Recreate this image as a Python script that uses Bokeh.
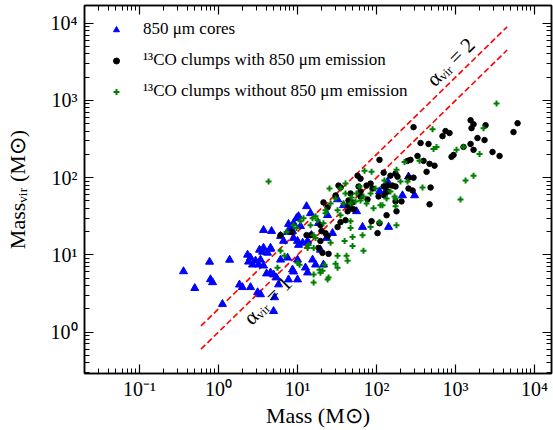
import math
from bokeh.plotting import figure
from bokeh.models import (LogAxis, FixedTicker, CustomJSTickFormatter, Legend, LegendItem,
                          Label, Range1d)
from bokeh.embed import file_html
from bokeh.resources import INLINE

FONT = "Liberation Serif"

# ---- data: 850 um cores ----
core_mass = [0.36, 0.50, 0.77, 0.79, 0.84, 1.12, 1.38, 1.84, 2.0, 2.54, 3.12, 3.40, 4.97, 5.12,
             2.33, 2.54, 2.40, 2.69, 3.30, 3.61, 3.40, 3.21, 3.71, 4.55, 3.71, 4.69, 4.05, 4.55,
             4.97, 5.42, 6.09, 7.47, 8.64, 8.90, 10.0, 12.6, 13.4, 15.5, 10.0, 6.09, 7.69, 8.15,
             7.47, 8.64, 8.90, 10.0, 10.3, 11.6, 9.71, 10.3, 8.90, 13.0, 6.65, 13.4, 3.71, 4.55,
             4.17, 15.0, 19.5, 23.3, 24.0, 32.1, 38.2, 55.8, 66.5, 142, 109, 138, 130, 213, 303,
             254, 27.7, 16.9, 21.3, 7.69, 5.75, 10.9, 18.4, 14.6, 2.94]
core_mvir = [6.1, 3.7, 8.1, 4.8, 4.4, 2.3, 8.6, 4.1, 3.8, 3.8, 3.26, 3.07, 1.86, 2.81,
             10.0, 9.16, 8.13, 7.45, 11.6, 10.9, 8.63, 7.45, 7.23, 12.3, 20.9, 20.3, 5.71, 5.88,
             5.54, 5.07, 8.63, 9.16, 6.42, 6.05, 8.63, 6.81, 5.88, 8.63, 4.78, 17.5, 25.0, 22.2,
             19.7, 20.3, 16.5, 15.1, 13.4, 14.3, 29.8, 31.6, 25.7, 42.5, 15.1, 15.1, 12.3, 11.9,
             10.6, 18.0, 11.6, 16.5, 32.6, 52.2, 43.8, 36.6, 22.9, 22.9, 66.2, 88.9, 66.2, 58.8, 58.8,
             103, 19.1, 7.45, 7.45, 4.78, 4.12, 23.5, 25.7, 34.5, 8.38]

# ---- data: 13CO clumps with 850 um emission ----
with_mass = [294, 1550, 1690, 1595, 2400, 6100, 5420, 684, 747, 839, 1897, 2328, 1549, 361, 455,
             1262, 1690, 944, 890, 2938, 3606, 330, 269, 247, 394, 469, 542, 430, 109, 57.5, 123,
             254, 294, 150, 174, 184, 33.0, 35.0, 123, 138, 159, 174, 254, 286, 483, 74.7, 84.0,
             21.3, 24.0, 30.3, 44.2, 49.7, 46.9, 43.0, 62.7, 76.9, 126, 138, 174, 469, 179, 134,
             86.5, 109, 103, 35.0, 6.09, 8.40, 13.0, 20.1, 22.6, 24.0, 19.5, 18.4, 20.7, 24.7,
             59.2, 62.7, 46.9, 44.2, 62.7, 51.2, 32.1, 19.5, 14.6, 207, 89.0, 40.5, 106]
with_mvir = [451, 554, 492, 438, 478, 507, 389, 345, 401, 378, 326, 307, 273, 281, 273,
             250, 229, 197, 186, 215, 191, 191, 170, 165, 165, 151, 143, 119, 170, 106, 116,
             100, 100, 106, 113, 103, 78.9, 74.5, 76.7, 78.9, 78.9, 76.7, 72.3, 68.1, 74.5, 78.9, 83.8,
             47.8, 41.2, 58.8, 43.8, 47.8, 40.1, 36.6, 57.1, 52.2, 58.8, 66.2, 49.2, 45.1, 36.6, 32.6,
             27.3, 25.7, 19.1, 26.5, 18.0, 19.7, 18.0, 20.3, 19.1, 17.5, 15.1, 12.3, 10.6, 10.3,
             76.7, 66.2, 62.4, 50.7, 97.1, 38.9, 22.9, 24.2, 18.0, 49.2, 72.3, 28.1, 57.1]

# ---- data: 13CO clumps without 850 um emission ----
without_mass = [3304, 512, 2262, 1030, 1262, 527, 575, 2014, 226, 350, 179, 1690, 1340, 1156, 382,
                201, 247, 169, 174, 119, 86.5, 70.5, 60.9, 25.4, 35.0, 48.3, 179, 84.0, 66.5, 49.7,
                39.4, 68.4, 41.7, 43.0, 30.3, 32.1, 20.7, 19.5, 16.0, 49.7, 4.30, 174, 109, 46.9,
                32.1, 22.6, 15.5, 32.1, 35.0, 38.2, 46.9, 54.2, 62.7, 68.4, 84.0, 97.1, 91.6, 112,
                46.9, 11.9, 8.90, 14.6, 16.9, 7.26, 6.09, 5.58, 6.84, 10.0, 13.4, 10.9, 16.9, 17.9,
                16.0, 21.3, 22.6, 19.0, 22.0, 16.0, 24.0, 9.71, 16.0, 10.6, 13.8, 24.7, 30.3, 40.5,
                55.8, 74.7, 134, 150, 26.2, 126, 40.5, 26.2]
without_mvir = [916, 425, 438, 229, 250, 235, 250, 203, 160, 165, 127, 106, 91.6, 52.2, 74.5,
                88.9, 88.9, 57.1, 42.5, 43.8, 119, 123, 76.7, 72.3, 72.3, 55.4, 24.2, 22.9, 18.0, 17.0,
                15.1, 11.3, 9.71, 8.38, 7.67, 6.81, 6.24, 5.88, 5.54, 13.0, 88.9, 53.8, 26.5, 22.2,
                9.71, 37.8, 29.8, 37.8, 32.6, 46.4, 46.4, 49.2, 50.7, 57.1, 62.4, 72.3, 40.1, 43.8,
                27.3, 29.8, 24.2, 24.2, 16.5, 19.7, 11.3, 6.81, 9.71, 7.89, 12.3, 27.3, 31.6, 28.1,
                18.0, 25.7, 34.5, 6.42, 7.45, 4.38, 4.78, 22.2, 12.3, 7.45, 13.4, 5.07, 53.8, 62.4,
                62.4, 46.4, 53.8, 66.2, 14.3, 91.6, 83.8, 46.4]

# virial-parameter reference lines: Mvir = alpha * M
line_mass = [0.6, 4500]
alphas = [1, 2]

labels = ["850 μm cores", "¹³CO clumps with 850 μm emission", "¹³CO clumps without 850 μm emission"]

x_major = [0.1, 1, 10, 100, 1000, 10000]
y_major = [1, 10, 100, 1000, 10000]
x_minor = [k * 10.0 ** d for d in range(-2, 5) for k in range(2, 10)]
y_minor = [k * 10.0 ** d for d in range(-1, 5) for k in range(2, 10)]

pow_fmt = CustomJSTickFormatter(code="""
const e = Math.round(Math.log10(tick));
const sup = {'-': '\u207b', '0': '\u2070', '1': '\u00b9', '2': '\u00b2', '3': '\u00b3',
             '4': '\u2074', '5': '\u2075', '6': '\u2076', '7': '\u2077', '8': '\u2078', '9': '\u2079'};
return '10' + String(e).split('').map((c) => sup[c]).join('');
""")
blank_fmt = CustomJSTickFormatter(code="return '';")

p = figure(width=553, height=430, x_axis_type="log", y_axis_type="log",
           x_range=Range1d(0.0201, 16400), y_range=Range1d(0.29, 17000),
           output_backend="svg", toolbar_location=None,
           min_border_left=84, min_border_right=2, min_border_top=5, min_border_bottom=53)
p.grid.visible = False
p.outline_line_color = "black"
p.outline_line_width = 1.5
p.background_fill_color = "white"
p.border_fill_color = "white"


def style_axis(ax, major, minor, show_labels):
    ax.ticker = FixedTicker(ticks=major, minor_ticks=minor)
    ax.major_tick_in = 9
    ax.major_tick_out = 0
    ax.minor_tick_in = 5
    ax.minor_tick_out = 0
    ax.major_tick_line_color = "black"
    ax.minor_tick_line_color = "black"
    ax.major_tick_line_width = 1.2
    ax.minor_tick_line_width = 1
    ax.axis_line_color = "black"
    ax.axis_line_width = 1.5
    if show_labels:
        ax.formatter = pow_fmt
        ax.major_label_text_font = FONT
        ax.major_label_text_font_size = "20px"
        ax.major_label_text_color = "black"
        ax.axis_label_text_font = FONT
        ax.axis_label_text_font_size = "22px"
        ax.axis_label_text_font_style = "normal"
        ax.axis_label_text_color = "black"
    else:
        ax.formatter = blank_fmt
        ax.major_label_standoff = 0


style_axis(p.xaxis[0], x_major, x_minor, True)
style_axis(p.yaxis[0], y_major, y_minor, True)
p.xaxis[0].axis_label = "Mass (M⊙)"
p.yaxis[0].axis_label = "Massᵥᵢᵣ (M⊙)"
p.xaxis[0].major_label_standoff = 4
p.xaxis[0].axis_label_standoff = 0
p.yaxis[0].major_label_standoff = 7
p.yaxis[0].axis_label_standoff = 18

top = LogAxis()
style_axis(top, x_major, x_minor, False)
p.add_layout(top, "above")
right = LogAxis()
style_axis(right, y_major, y_minor, False)
p.add_layout(right, "right")

for a in alphas:
    p.line(line_mass, [a * m for m in line_mass], line_color="red", line_width=1.6, line_dash="6 3")

r1 = p.scatter(core_mass, core_mvir, marker="triangle", size=8, fill_color="blue", line_color="blue")
r2 = p.scatter(with_mass, with_mvir, marker="circle", size=5.5, fill_color="black", line_color="black")
r3 = p.scatter(without_mass, without_mvir, marker="cross", size=6, line_color="green", line_width=2)

legend = Legend(items=[LegendItem(label=labels[0], renderers=[r1]),
                       LegendItem(label=labels[1], renderers=[r2]),
                       LegendItem(label=labels[2], renderers=[r3])],
                location="top_left", margin=4, padding=10, spacing=11,
                glyph_width=36, glyph_height=15, label_height=15, label_standoff=9,
                label_text_font=FONT, label_text_font_size="17px", label_text_color="black",
                border_line_alpha=0, background_fill_alpha=0)
p.add_layout(legend)

p.add_layout(Label(x=865, y=3160, text="αᵥᵢᵣ = 2", angle=math.pi / 4, text_align="center",
                   text_baseline="middle", text_font=FONT, text_font_size="21px", text_color="black"))
p.add_layout(Label(x=4.17, y=2.57, text="αᵥᵢᵣ = 1", angle=math.pi / 4, text_align="center",
                   text_baseline="middle", text_font=FONT, text_font_size="21px", text_color="black"))

open("out.html", "w").write(file_html(p, INLINE))
